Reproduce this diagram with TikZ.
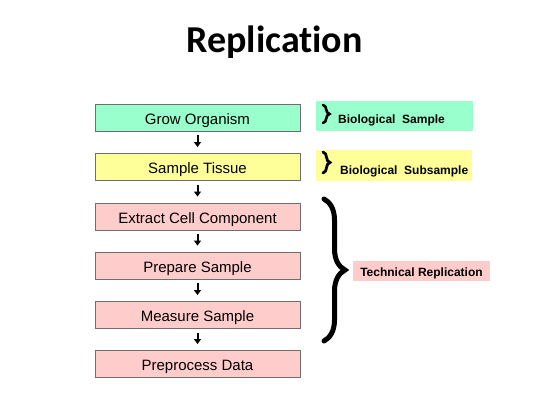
\documentclass[tikz,border=0pt]{standalone}
\usepackage{fontspec}
\setmainfont{Liberation Sans}
\newfontfamily\titlefont[Ligatures=NoCommon]{Carlito}
\usetikzlibrary{arrows.meta,decorations.pathreplacing}
\definecolor{growgreen}{RGB}{153,255,204}
\definecolor{tissueyellow}{RGB}{255,255,153}
\definecolor{techpink}{RGB}{255,204,204}
\definecolor{boxgray}{RGB}{110,110,110}
\tikzset{
    stepbox/.style={draw=boxgray, line width=0.9pt, minimum width=205pt, minimum height=27pt,
        inner sep=0pt, text height=13.7pt, text depth=0pt, font=\fontsize{15}{18}\selectfont},
    flowarrow/.style={line width=2pt, -{Triangle[width=7pt,length=5pt]},
        shorten <=4pt, shorten >=6pt},
    tagfill/.style={inner sep=0pt},
    tagtext/.style={inner sep=0pt, font=\bfseries\fontsize{12}{14}\selectfont},
    bracemark/.style={decorate, decoration={brace, amplitude=#1}, line cap=round}
}
\begin{document}
\begin{tikzpicture}[x=1pt, y=-1pt]
    \useasboundingbox (0,0) rectangle (546,410);
    \node[anchor=base, font=\titlefont\bfseries\fontsize{38}{44}\selectfont] (title) at (274.5,52) {Replication};
    % steps
    \node[stepbox, fill=growgreen] (grow) at (197.5,117.5) {Grow Organism};
    \node[stepbox, fill=tissueyellow] (tissue) at (197.5,167) {Sample Tissue};
    \node[stepbox, fill=techpink] (extract) at (197.5,216.5) {Extract Cell Component};
    \node[stepbox, fill=techpink] (prepare) at (197.5,265.5) {Prepare Sample};
    \node[stepbox, fill=techpink] (measure) at (197.5,315) {Measure Sample};
    \node[stepbox, fill=techpink] (preproc) at (197.5,364) {Preprocess Data};
    \foreach \a/\b in {grow/tissue, tissue/extract, extract/prepare, prepare/measure, measure/preproc} {
        \draw[flowarrow] (\a) -- (\b);
    };
    % labels
    \node[tagfill, fill=growgreen, minimum width=157pt, minimum height=30pt] (biosample) at (394.5,116) {};
    \node[tagtext, anchor=base west] (biosampletext) at (338,123) {Biological \ Sample};
    \node[tagfill, fill=tissueyellow, minimum width=156pt, minimum height=31pt] (biosub) at (394,165.5) {};
    \node[tagtext, anchor=base west] (biosubtext) at (340,174) {Biological \ Subsample};
    \node[tagfill, fill=techpink, minimum width=137pt, minimum height=20pt] (techrep) at (421.5,271) {};
    \node[tagtext, anchor=base] (techreptext) at (421.5,276) {Technical Replication};
    % braces
    \coordinate (biosampletop) at (323,105);
    \coordinate (biosamplebot) at (323,123);
    \coordinate (biosubtop) at (323,152);
    \coordinate (biosubbot) at (323,173);
    \coordinate (bracetop) at (324,199);
    \coordinate (bracebot) at (324,341);
    \draw[line width=2.6pt, bracemark=6.5pt] (biosampletop) -- (biosamplebot);
    \draw[line width=2.8pt, bracemark=7pt] (biosubtop) -- (biosubbot);
    \draw[line width=5pt, bracemark=21pt] (bracetop) -- (bracebot);
\end{tikzpicture}
\end{document}
